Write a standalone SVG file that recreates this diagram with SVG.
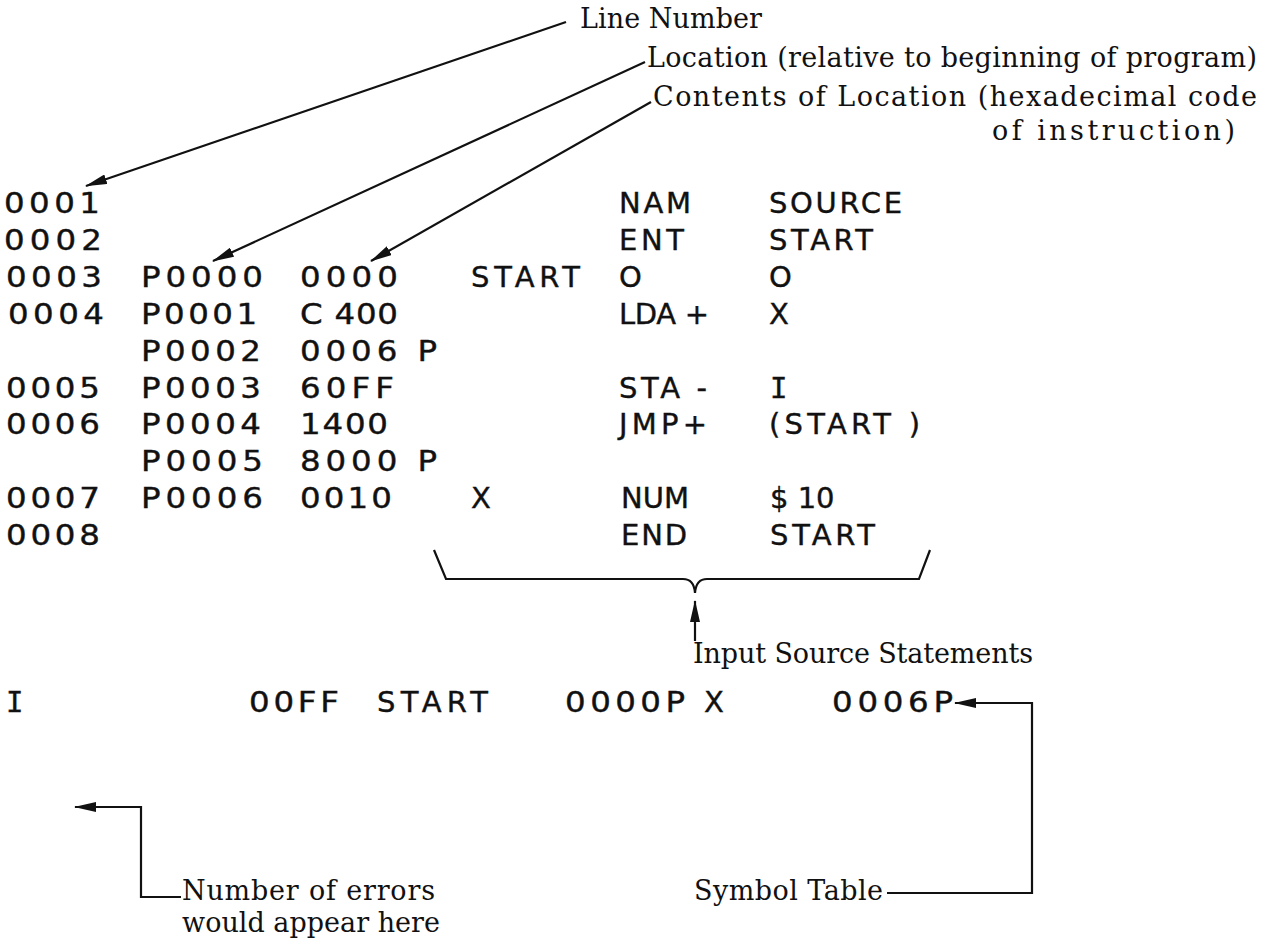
<svg xmlns="http://www.w3.org/2000/svg" width="1266" height="941" viewBox="0 0 1266 941">
<style>
.m{font-family:"DejaVu Sans","Liberation Sans",sans-serif;font-size:29px;fill:#111;stroke:#111;stroke-width:0.4}
.i{font-family:"DejaVu Sans Mono","Liberation Mono",monospace;font-size:29px;fill:#111;stroke:#111;stroke-width:0.4}
.s{font-family:"DejaVu Serif","Liberation Serif",serif;font-size:27px;fill:#111}
.ln{stroke:#111;stroke-width:2.2;fill:none}
</style>
<defs>
<marker id="ah" viewBox="0 0 22 10" refX="21" refY="5" markerWidth="22" markerHeight="10" markerUnits="userSpaceOnUse" orient="auto">
<path d="M0,0 L22,5 L0,10 Z" fill="#111"/>
</marker>
</defs>
<rect width="1266" height="941" fill="#fff"/>
<g id="listing">
<g id="listing-numbers" transform="scale(1.12 1)">
<text class="m" x="3.57" y="213" textLength="85.7" lengthAdjust="spacing">0001</text>
<text class="m" x="3.57" y="250" textLength="87.5" lengthAdjust="spacing">0002</text>
<text class="m" x="5.36" y="287" textLength="85.7" lengthAdjust="spacing">0003</text>
<text class="m" x="125.9" y="287" textLength="108.9" lengthAdjust="spacing">P0000</text>
<text class="m" x="267.86" y="287" textLength="87.5" lengthAdjust="spacing">0000</text>
<text class="m" x="7.14" y="324" textLength="85.7" lengthAdjust="spacing">0004</text>
<text class="m" x="125.9" y="324" textLength="103.6" lengthAdjust="spacing">P0001</text>
<text class="m" x="267.86" y="324" textLength="87.5" lengthAdjust="spacing">C 400</text>
<text class="m" x="125.9" y="361" textLength="107.1" lengthAdjust="spacing">P0002</text>
<text class="m" x="267.86" y="361" textLength="122.3" lengthAdjust="spacing">0006 P</text>
<text class="m" x="5.36" y="398" textLength="83.9" lengthAdjust="spacing">0005</text>
<text class="m" x="125.9" y="398" textLength="107.1" lengthAdjust="spacing">P0003</text>
<text class="m" x="267.86" y="398" textLength="83.9" lengthAdjust="spacing">60FF</text>
<text class="m" x="5.36" y="434" textLength="83.9" lengthAdjust="spacing">0006</text>
<text class="m" x="125.9" y="434" textLength="107.1" lengthAdjust="spacing">P0004</text>
<text class="m" x="267.86" y="434" textLength="78.6" lengthAdjust="spacing">1400</text>
<text class="m" x="125.9" y="471" textLength="108.9" lengthAdjust="spacing">P0005</text>
<text class="m" x="267.86" y="471" textLength="122.3" lengthAdjust="spacing">8000 P</text>
<text class="m" x="5.36" y="508" textLength="83.9" lengthAdjust="spacing">0007</text>
<text class="m" x="125.9" y="508" textLength="108.9" lengthAdjust="spacing">P0006</text>
<text class="m" x="267.86" y="508" textLength="82.1" lengthAdjust="spacing">0010</text>
<text class="m" x="5.36" y="545" textLength="83.9" lengthAdjust="spacing">0008</text>
</g>
<g id="listing-source">
<text class="m" x="619" y="213" textLength="72" lengthAdjust="spacing">NAM</text>
<text class="m" x="769" y="213" textLength="133" lengthAdjust="spacing">SOURCE</text>
<text class="m" x="619" y="250" textLength="65" lengthAdjust="spacing">ENT</text>
<text class="m" x="769" y="250" textLength="104" lengthAdjust="spacing">START</text>
<text class="m" x="471" y="287" textLength="109" lengthAdjust="spacing">START</text>
<text class="m" x="619" y="287">O</text>
<text class="m" x="769" y="287">O</text>
<text class="m" x="619" y="324" textLength="90" lengthAdjust="spacing">LDA +</text>
<text class="m" x="769" y="324">X</text>
<text class="m" x="619" y="398" textLength="88" lengthAdjust="spacing">STA -</text>
<text class="i" x="770" y="398">I</text>
<text class="m" x="619" y="434" textLength="88" lengthAdjust="spacing">JMP+</text>
<text class="m" x="769" y="434" textLength="151" lengthAdjust="spacing">(START )</text>
<text class="m" x="471" y="508">X</text>
<text class="m" x="621" y="508" textLength="68" lengthAdjust="spacing">NUM</text>
<text class="m" x="770" y="508">$ 10</text>
<text class="m" x="621" y="545" textLength="66" lengthAdjust="spacing">END</text>
<text class="m" x="770" y="545" textLength="105" lengthAdjust="spacing">START</text>
</g>
</g>
<g id="symbol-table">
<text class="i" x="6" y="712">I</text>
<g transform="scale(1.12 1)">
<text class="m" x="222.3" y="712" textLength="80.4" lengthAdjust="spacing">00FF</text>
<text class="m" x="504.5" y="712" textLength="107.1" lengthAdjust="spacing">0000P</text>
<text class="m" x="742.9" y="712" textLength="108" lengthAdjust="spacing">0006P</text>
</g>
<text class="m" x="377" y="712" textLength="111" lengthAdjust="spacing">START</text>
<text class="m" x="704" y="712">X</text>
</g>
<g id="labels">
<text class="s" x="580" y="28" textLength="182" lengthAdjust="spacing">Line Number</text>
<text class="s" x="647" y="67" textLength="610" lengthAdjust="spacing">Location (relative to beginning of program)</text>
<text class="s" x="653" y="106" textLength="604" lengthAdjust="spacing">Contents of Location (hexadecimal code</text>
<text class="s" x="992" y="140" textLength="243" lengthAdjust="spacing">of instruction)</text>
<text class="s" x="693" y="663" textLength="340" lengthAdjust="spacing">Input Source Statements</text>
<text class="s" x="182" y="900" textLength="253" lengthAdjust="spacing">Number of errors</text>
<text class="s" x="182" y="932" textLength="258" lengthAdjust="spacing">would appear here</text>
<text class="s" x="694" y="900" textLength="189" lengthAdjust="spacing">Symbol Table</text>
</g>
<g id="connectors">
<line class="ln" x1="566" y1="22" x2="86" y2="186" marker-end="url(#ah)"/>
<line class="ln" x1="645" y1="62" x2="213" y2="261" marker-end="url(#ah)"/>
<line class="ln" x1="651" y1="102" x2="371" y2="261" marker-end="url(#ah)"/>
<path class="ln" d="M434,550 L446,579 L683,579 Q694,579 695,593 Q696,579 707,579 L919,579 L930,550"/>
<line class="ln" x1="695" y1="641" x2="695" y2="601" marker-end="url(#ah)"/>
<path class="ln" d="M887,893 L1032,893 L1032,703 L955,703" marker-end="url(#ah)"/>
<path class="ln" d="M181,897 L141,897 L141,807 L75,807" marker-end="url(#ah)"/>
</g>
</svg>
